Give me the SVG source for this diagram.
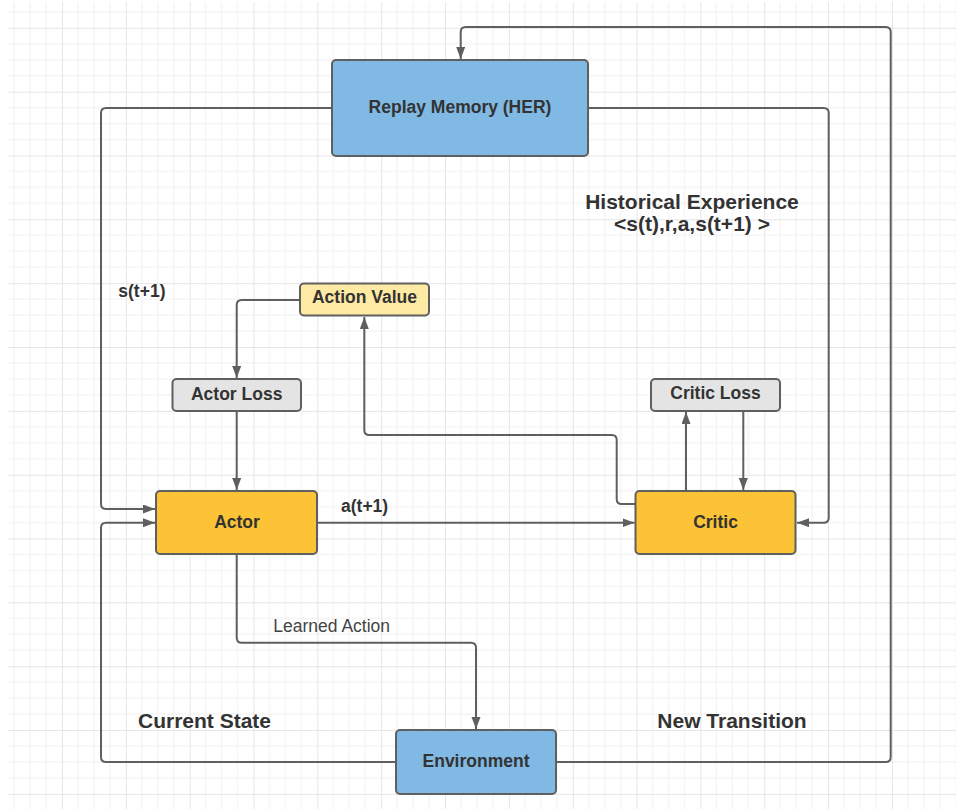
<svg xmlns="http://www.w3.org/2000/svg" width="956" height="809" viewBox="0 0 956 809">
<defs>
<pattern id="grid" patternUnits="userSpaceOnUse" x="62" y="27.8" width="63.84" height="63.84">
<path d="M15.96,0V63.84M31.92,0V63.84M47.88,0V63.84M0,15.96H63.84M0,31.92H63.84M0,47.88H63.84" stroke="#efefef" stroke-width="1" fill="none"/>
<path d="M0.5,0V63.84M0,0.5H63.84" stroke="#e5e5e5" stroke-width="1" fill="none"/>
</pattern>
<marker id="arr" markerUnits="userSpaceOnUse" markerWidth="13" markerHeight="10" refX="12" refY="4.5" orient="auto">
<path d="M0,0 L12,4.5 L0,9 z" fill="#5f5f5f"/>
</marker>
<style>
.node rect{stroke:#5f5f5f;stroke-width:2}
.blue{fill:#80b9e3}
.yellow{fill:#fbc335}
.lightyellow{fill:#ffeaa3}
.gray{fill:#e4e4e4}
text{font-family:"Liberation Sans",Arial,sans-serif;fill:#333333}
.nt{font-size:17.5px;font-weight:bold;text-anchor:middle}
.lb{font-size:17.5px;font-weight:bold}
.big{font-size:21px;font-weight:bold}
.reg{font-size:17.5px;fill:#444444}
#connectors path{fill:none;stroke:#5f5f5f;stroke-width:2}
.a{marker-end:url(#arr)}
</style>
</defs>
<rect width="956" height="809" fill="#ffffff"/>
<rect x="8" y="2" width="948" height="807" fill="url(#grid)"/>

<g id="connectors">
<path class="a" d="M556,762 H885.7 Q890.7,762 890.7,757 V32 Q890.7,27 885.7,27 H465.7 Q460.7,27 460.7,32 V59"/>
<path class="a" d="M332,108 H106 Q101,108 101,113 V504 Q101,509 106,509 H155"/>
<path class="a" d="M396,762 H106 Q101,762 101,757 V527.7 Q101,522.7 106,522.7 H155"/>
<path class="a" d="M588,108 H823.7 Q828.7,108 828.7,113 V517.7 Q828.7,522.7 823.7,522.7 H797"/>
<path class="a" d="M317,522.7 H634.5"/>
<path class="a" d="M236.7,555 V637.7 Q236.7,642.7 241.7,642.7 H471 Q476,642.7 476,647.7 V729"/>
<path class="a" d="M635,504 H621.7 Q616.7,504 616.7,499 V440 Q616.7,435 611.7,435 H369.3 Q364.3,435 364.3,430 V317"/>
<path class="a" d="M300,300 H241.7 Q236.7,300 236.7,305 V378"/>
<path class="a" d="M236.7,412 V490"/>
<path class="a" d="M686,490 V412"/>
<path class="a" d="M743.3,412 V490"/>
</g>

<g id="replay" class="node"><rect class="blue" x="332" y="60" width="256" height="96" rx="4"/><text class="nt" x="460" y="112.5">Replay Memory (HER)</text></g>
<g id="actionvalue" class="node"><rect class="lightyellow" x="300" y="283.5" width="129" height="32" rx="4"/><text class="nt" x="364.5" y="303">Action Value</text></g>
<g id="actorloss" class="node"><rect class="gray" x="172.5" y="379" width="128.5" height="32" rx="4"/><text class="nt" x="236.7" y="399.5">Actor Loss</text></g>
<g id="criticloss" class="node"><rect class="gray" x="651" y="379" width="129" height="32" rx="4"/><text class="nt" x="715.5" y="398.5">Critic Loss</text></g>
<g id="actor" class="node"><rect class="yellow" x="156" y="491" width="161" height="63" rx="4"/><text class="nt" x="237" y="528">Actor</text></g>
<g id="critic" class="node"><rect class="yellow" x="635.5" y="491" width="160" height="63" rx="4"/><text class="nt" x="715.5" y="527.5">Critic</text></g>
<g id="environment" class="node"><rect class="blue" x="396" y="730" width="160" height="64" rx="4"/><text class="nt" x="476" y="767">Environment</text></g>

<g id="labels">
<text class="lb" x="118.3" y="297">s(t+1)</text>
<text class="lb" x="341" y="512.3">a(t+1)</text>
<text class="reg" x="273.3" y="631.7">Learned Action</text>
<text class="big" x="138" y="728">Current State</text>
<text class="big" x="657.3" y="727.5">New Transition</text>
<text class="big" x="692" y="209.3" text-anchor="middle">Historical Experience</text>
<text class="big" x="692" y="231" text-anchor="middle">&lt;s(t),r,a,s(t+1) &gt;</text>
</g>
</svg>
